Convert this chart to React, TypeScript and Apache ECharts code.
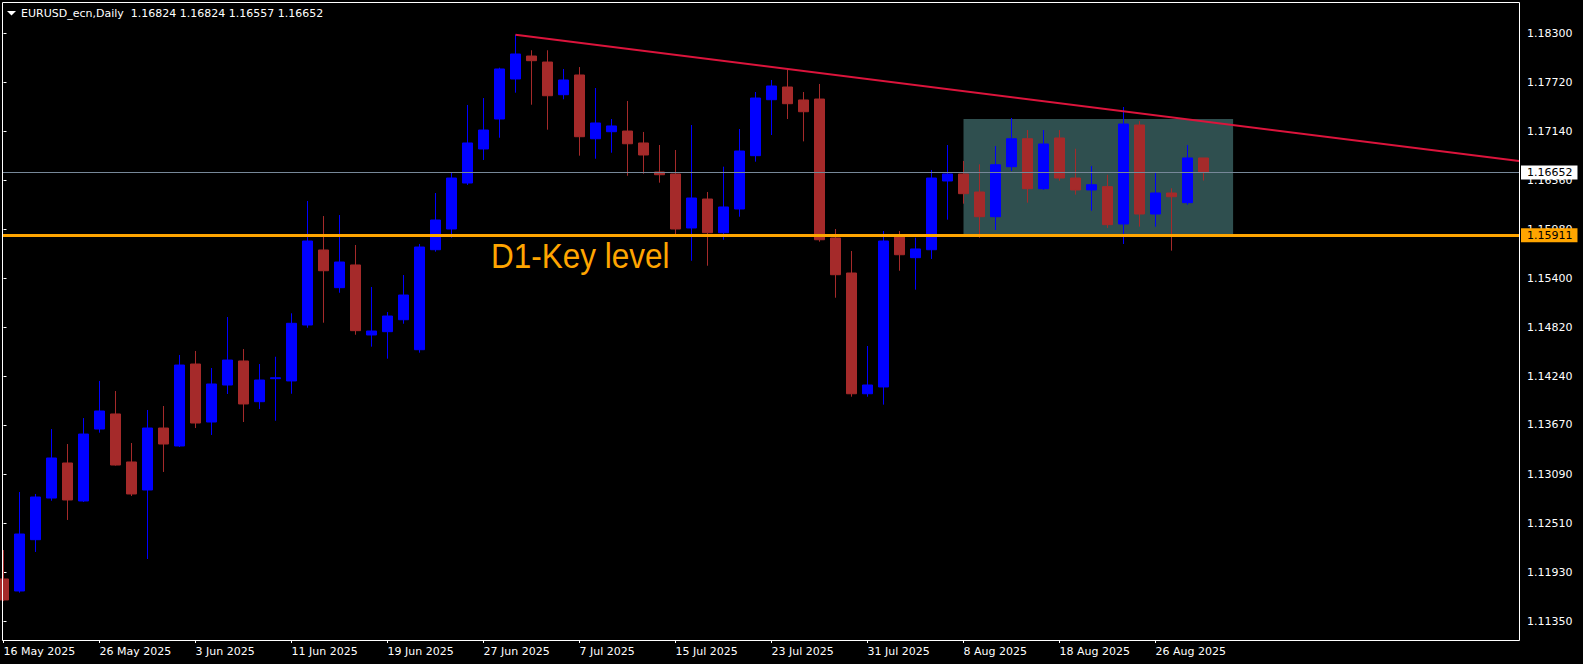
import React, { useEffect, useRef } from "react";
import * as echarts from "echarts";

// ---- data ----
const dates = [
  "16 May 2025",
  "19 May 2025", "20 May 2025", "21 May 2025", "22 May 2025", "23 May 2025",
  "26 May 2025", "27 May 2025", "28 May 2025", "29 May 2025", "30 May 2025",
  "2 Jun 2025", "3 Jun 2025", "4 Jun 2025", "5 Jun 2025", "6 Jun 2025",
  "9 Jun 2025", "10 Jun 2025", "11 Jun 2025", "12 Jun 2025", "13 Jun 2025",
  "16 Jun 2025", "17 Jun 2025", "18 Jun 2025", "19 Jun 2025", "20 Jun 2025",
  "23 Jun 2025", "24 Jun 2025", "25 Jun 2025", "26 Jun 2025", "27 Jun 2025",
  "30 Jun 2025", "1 Jul 2025", "2 Jul 2025", "3 Jul 2025", "4 Jul 2025",
  "7 Jul 2025", "8 Jul 2025", "9 Jul 2025", "10 Jul 2025", "11 Jul 2025",
  "14 Jul 2025", "15 Jul 2025", "16 Jul 2025", "17 Jul 2025", "18 Jul 2025",
  "21 Jul 2025", "22 Jul 2025", "23 Jul 2025", "24 Jul 2025", "25 Jul 2025",
  "28 Jul 2025", "29 Jul 2025", "30 Jul 2025", "31 Jul 2025", "1 Aug 2025",
  "4 Aug 2025", "5 Aug 2025", "6 Aug 2025", "7 Aug 2025", "8 Aug 2025",
  "11 Aug 2025", "12 Aug 2025", "13 Aug 2025", "14 Aug 2025", "15 Aug 2025",
  "18 Aug 2025", "19 Aug 2025", "20 Aug 2025", "21 Aug 2025", "22 Aug 2025",
  "25 Aug 2025", "26 Aug 2025", "27 Aug 2025", "28 Aug 2025", "29 Aug 2025",
];

const opens = [
  1.11851, 1.11709, 1.12315, 1.12807, 1.13221, 1.12772, 1.13622, 1.138, 1.13233, 1.12902,
  1.13634, 1.13422, 1.1439, 1.13705, 1.14142, 1.14426, 1.13945, 1.14217, 1.1419, 1.14851,
  1.15737, 1.15292, 1.1556, 1.14733, 1.14772, 1.14913, 1.14559, 1.1574, 1.15985, 1.16528,
  1.1693, 1.17284, 1.17757, 1.18028, 1.17957, 1.17571, 1.17804, 1.17051, 1.17134, 1.17142,
  1.17001, 1.16658, 1.16635, 1.15997, 1.16339, 1.15941, 1.16221, 1.16851, 1.17512, 1.17662,
  1.17509, 1.1752, 1.15879, 1.15465, 1.14039, 1.14119, 1.1589, 1.15646, 1.1574, 1.16552,
  1.16635, 1.16422, 1.1613, 1.16721, 1.17051, 1.16461, 1.1706, 1.16587, 1.16446, 1.16485,
  1.16044, 1.17213, 1.16162, 1.1641, 1.16296, 1.16824,
];
const highs = [
  1.12193, 1.12878, 1.12855, 1.13622, 1.13445, 1.13752, 1.1419, 1.14071, 1.13457, 1.13847,
  1.13894, 1.14497, 1.14544, 1.14343, 1.14945, 1.14567, 1.1439, 1.14476, 1.14989, 1.16316,
  1.16138, 1.1615, 1.15796, 1.153, 1.15004, 1.15441, 1.15808, 1.1641, 1.16646, 1.1745,
  1.17532, 1.1789, 1.1828, 1.18096, 1.18096, 1.17875, 1.17898, 1.1765, 1.17284, 1.17497,
  1.17131, 1.16977, 1.16918, 1.17213, 1.16422, 1.16721, 1.17166, 1.17603, 1.17745, 1.17863,
  1.17603, 1.17698, 1.15985, 1.15725, 1.14603, 1.15961, 1.15961, 1.15882, 1.16682, 1.16977,
  1.16788, 1.16749, 1.16965, 1.17296, 1.17154, 1.17154, 1.17154, 1.16933, 1.16729, 1.16626,
  1.17426, 1.1726, 1.16646, 1.16466, 1.16977, 1.16824,
];
const lows = [
  1.1159, 1.11689, 1.1217, 1.12775, 1.12548, 1.1276, 1.13579, 1.1319, 1.12831, 1.12087,
  1.13115, 1.1341, 1.13634, 1.13552, 1.14036, 1.13705, 1.13859, 1.1372, 1.14039, 1.14819,
  1.14878, 1.15232, 1.14736, 1.14595, 1.14453, 1.14866, 1.14524, 1.15717, 1.15882, 1.16505,
  1.168, 1.17063, 1.17595, 1.17453, 1.17158, 1.17517, 1.16851, 1.16815, 1.16886, 1.16614,
  1.16638, 1.16532, 1.15926, 1.1561, 1.15551, 1.15858, 1.1613, 1.1678, 1.17095, 1.17284,
  1.1702, 1.15835, 1.15173, 1.14004, 1.14004, 1.1391, 1.15492, 1.15268, 1.15631, 1.16095,
  1.16284, 1.15882, 1.15973, 1.1667, 1.16296, 1.16446, 1.16555, 1.1639, 1.16201, 1.15997,
  1.15808, 1.16012, 1.16012, 1.15729, 1.16272, 1.16557,
];
const closes = [
  1.11603, 1.12382, 1.12819, 1.1328, 1.12784, 1.13563, 1.13835, 1.13197, 1.12855, 1.13634,
  1.13445, 1.14378, 1.13693, 1.14154, 1.14437, 1.13918, 1.14201, 1.14228, 1.14871, 1.15843,
  1.15492, 1.15595, 1.14784, 1.1478, 1.14957, 1.15205, 1.15772, 1.16091, 1.16587, 1.17001,
  1.17154, 1.17875, 1.18052, 1.17973, 1.17559, 1.17745, 1.17075, 1.17237, 1.17202, 1.16992,
  1.16859, 1.16626, 1.15985, 1.16351, 1.15941, 1.16245, 1.16906, 1.17532, 1.17674, 1.17465,
  1.1737, 1.15858, 1.15445, 1.14039, 1.14142, 1.15843, 1.15681, 1.15749, 1.16587, 1.16635,
  1.16402, 1.1613, 1.16744, 1.17051, 1.16461, 1.16989, 1.16587, 1.16446, 1.16508, 1.16036,
  1.17225, 1.16162, 1.1641, 1.16366, 1.16824, 1.16652,
];

const xTickLabels = [
  "16 May 2025", "26 May 2025", "3 Jun 2025", "11 Jun 2025", "19 Jun 2025",
  "27 Jun 2025", "7 Jul 2025", "15 Jul 2025", "23 Jul 2025", "31 Jul 2025",
  "8 Aug 2025", "18 Aug 2025", "26 Aug 2025",
];
const yTickValues = [
  1.183, 1.1772, 1.1714, 1.1656, 1.1598, 1.154, 1.1482, 1.1424, 1.1367, 1.1309, 1.1251, 1.1193, 1.1135,
];

const bidPrice = 1.16652;
const keyLevel = 1.15911;
const keyLevelText = "D1-Key level";
const trendPoints = [
  [32, 1.1828],
  [70, 1.17376],
];
const boxFromBar = 60;
const boxToBar = 76.85;
const boxTop = 1.17284;
const boxBottom = 1.1592;
const titleText = "EURUSD_ecn,Daily  1.16824 1.16824 1.16557 1.16652";

// ---- layout ----
const X_MIN = -0.03125;
const X_MAX = 94.71875;
const Y_MIN = 1.1113012;
const Y_MAX = 1.1865436;
const FONT = "DejaVu Sans";

export default function App() {
  const ref = useRef<HTMLDivElement>(null);

  useEffect(() => {
    document.body.style.margin = "0";
    document.body.style.background = "#000";
    const chart = echarts.init(ref.current!, null, { renderer: "svg" });

    const candleData = dates.map((_, i) => [i, opens[i], closes[i], lows[i], highs[i]]);
    const tickIdx = xTickLabels.map((l) => dates.indexOf(l));
    const slope = (trendPoints[1][1] - trendPoints[0][1]) / (trendPoints[1][0] - trendPoints[0][0]);
    const trendEnd = trendPoints[0][1] + slope * (X_MAX - trendPoints[0][0]);

    const priceLabel = (bg: string, text: string) => ({
      show: true,
      position: "end",
      distance: 2,
      formatter: text,
      backgroundColor: bg,
      color: "#000",
      fontFamily: FONT,
      fontSize: 11,
      lineHeight: 12,
      padding: [1, 5, 1, 6],
    });

    chart.setOption({
      animation: false,
      backgroundColor: "#000",
      grid: { left: 3, top: 3, width: 1516, height: 637, containLabel: false },
      xAxis: {
        type: "value",
        min: X_MIN,
        max: X_MAX,
        axisLine: { show: false },
        axisTick: { show: true, length: 3, customValues: tickIdx, lineStyle: { color: "#fff" } },
        axisLabel: {
          customValues: tickIdx,
          formatter: (v: number) => dates[Math.round(v)] ?? "",
          color: "#fff",
          fontFamily: FONT,
          fontSize: 11,
          align: "left",
          margin: 6,
        },
        splitLine: { show: false },
      },
      yAxis: {
        type: "value",
        position: "right",
        min: Y_MIN,
        max: Y_MAX,
        axisLine: { show: false },
        axisTick: { show: true, length: 3, customValues: yTickValues, lineStyle: { color: "#fff" } },
        axisLabel: {
          customValues: yTickValues,
          formatter: (v: number) => v.toFixed(5),
          color: "#fff",
          fontFamily: FONT,
          fontSize: 11,
          margin: 8,
        },
        splitLine: { show: false },
      },
      graphic: [
        {
          type: "rect",
          silent: true,
          z: 100,
          shape: { x: 2.5, y: 2.5, width: 1517, height: 638 },
          style: { fill: "none", stroke: "#fff", lineWidth: 1 },
        },
        {
          type: "polygon",
          silent: true,
          z: 100,
          shape: { points: [[7, 11], [16, 11], [11.5, 15.5]] },
          style: { fill: "#fff" },
        },
        {
          type: "text",
          silent: true,
          z: 100,
          x: 21,
          y: 13,
          style: {
            text: titleText,
            fill: "#fff",
            font: `11px "${FONT}"`,
            verticalAlign: "middle",
            align: "left",
          },
        },
        {
          type: "text",
          silent: true,
          z: 100,
          x: 491,
          y: 256,
          scaleX: 0.9,
          style: {
            text: keyLevelText,
            fill: "#FFA500",
            font: `35px "Liberation Sans"`,
            verticalAlign: "middle",
            align: "left",
          },
        },
      ],
      series: [
        {
          type: "candlestick",
          z: 2,
          data: candleData,
          barWidth: 10,
          itemStyle: {
            color: "#0000FF",
            color0: "#A52A2A",
            borderColor: "#0000FF",
            borderColor0: "#A52A2A",
            borderWidth: 1,
          },
          markArea: {
            silent: true,
            itemStyle: { color: "#2F4F4F", opacity: 1 },
            data: [[{ coord: [boxFromBar, boxTop] }, { coord: [boxToBar, boxBottom] }]],
          },
        },
        {
          type: "line",
          z: 3,
          data: [
            [trendPoints[0][0], trendPoints[0][1]],
            [X_MAX, trendEnd],
          ],
          showSymbol: false,
          symbol: "none",
          lineStyle: { color: "#DC143C", width: 2 },
        },
        {
          type: "line",
          z: 4,
          data: [],
          markLine: {
            silent: true,
            precision: 5,
            symbol: ["none", "none"],
            data: [
              {
                yAxis: bidPrice,
                lineStyle: { color: "#778899", width: 1, type: "solid" },
                label: priceLabel("#ffffff", bidPrice.toFixed(5)),
              },
              {
                yAxis: keyLevel,
                lineStyle: { color: "#FFA500", width: 3, type: "solid" },
                label: priceLabel("#FFA500", keyLevel.toFixed(5)),
              },
            ],
          },
        },
      ],
    });

    return () => chart.dispose();
  }, []);

  return (
    <div
      ref={ref}
      style={{ position: "absolute", left: 0, top: 0, width: 1583, height: 664, background: "#000" }}
    />
  );
}
